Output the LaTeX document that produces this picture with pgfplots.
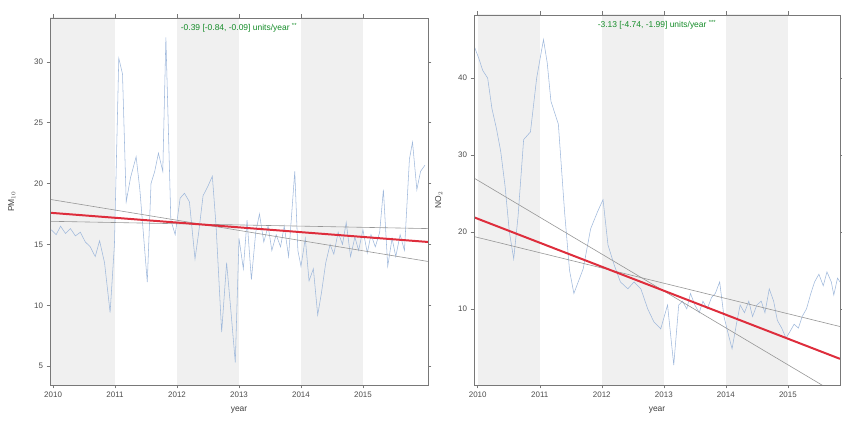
\documentclass[border=0pt]{standalone}
\usepackage{fontspec}
\setmainfont{Liberation Sans}
\usepackage{pgfplots}
\pgfplotsset{compat=1.18}
\definecolor{band}{RGB}{240,240,240}
\definecolor{dataline}{RGB}{160,185,220}
\definecolor{trend}{RGB}{222,45,60}
\definecolor{ci}{RGB}{150,150,150}
\definecolor{annot}{RGB}{20,140,40}
\definecolor{axgray}{RGB}{120,120,120}
\pgfplotsset{
 panel/.style={
  scale only axis,
  axis on top,
  axis line style={axgray, line width=0.6pt},
  tick style={axgray, line width=0.5pt},
  tick align=outside,
  major tick length=3.5bp,
  xtick={2010,2011,2012,2013,2014,2015},
  x tick label style={/pgf/number format/.cd, 1000 sep={}},
  /pgf/number format/assume math mode=true,
  ticklabel style={font=\fontsize{8}{9}\selectfont, text=black!70},
  xlabel={year},
  label style={font=\fontsize{8.5}{10}\selectfont, text=black!75},
  xlabel style={yshift=-2bp},
 }
}
\begin{document}
\begin{tikzpicture}
\useasboundingbox (0,0) rectangle (842bp,425bp);
% ---------------- left panel ----------------
\begin{axis}[panel,
  at={(50bp,40bp)}, anchor=south west,
  width=378bp, height=367bp,
  xmin=2009.95, xmax=2016.05, ymin=3.45, ymax=33.6,
  ytick={5,10,15,20,25,30},
  ylabel={PM$_{10}$}, ylabel style={yshift=12bp},
]
\addplot[fill=band, draw=none] coordinates {(2009.95,0) (2011,0) (2011,40) (2009.95,40)} -- cycle;
\addplot[fill=band, draw=none] coordinates {(2012,0) (2013,0) (2013,40) (2012,40)} -- cycle;
\addplot[fill=band, draw=none] coordinates {(2014,0) (2015,0) (2015,40) (2014,40)} -- cycle;
\addplot[dataline, line width=0.55pt] coordinates {
(2009.97,16.2) (2010.05,15.8) (2010.12,16.5) (2010.2,15.9) (2010.28,16.3) (2010.36,15.7)
(2010.44,16.0) (2010.52,15.2) (2010.6,14.8) (2010.68,14.0) (2010.75,15.3) (2010.83,13.5)
(2010.92,9.4) (2010.99,15.0) (2011.06,30.3) (2011.12,29.0) (2011.18,18.5) (2011.25,20.5)
(2011.34,22.2) (2011.4,19.5) (2011.52,11.9) (2011.58,20.0) (2011.64,21.0) (2011.7,22.5)
(2011.77,21.0) (2011.82,32.0) (2011.9,17.0) (2011.97,15.8) (2012.05,18.8) (2012.12,19.2)
(2012.2,18.5) (2012.29,13.8) (2012.35,16.0) (2012.42,19.0) (2012.5,19.8) (2012.57,20.6)
(2012.63,16.5) (2012.72,7.8) (2012.8,13.5) (2012.87,9.5) (2012.94,5.3) (2013.0,15.5)
(2013.07,13.0) (2013.13,17.0) (2013.2,12.1) (2013.27,16.0) (2013.33,17.5) (2013.4,15.2)
(2013.47,16.5) (2013.53,14.5) (2013.6,15.8) (2013.67,14.8) (2013.73,16.5) (2013.8,14.0)
(2013.9,21.0) (2013.95,14.5) (2014.0,13.2) (2014.07,15.5) (2014.13,12.0) (2014.2,13.0)
(2014.27,9.2) (2014.33,11.0) (2014.4,13.5) (2014.47,15.0) (2014.53,14.2) (2014.6,16.0)
(2014.67,15.0) (2014.73,16.8) (2014.8,14.0) (2014.87,15.6) (2014.93,14.5) (2015.0,16.2)
(2015.07,14.3) (2015.13,15.8) (2015.2,14.8) (2015.27,16.0) (2015.33,19.5) (2015.4,13.2)
(2015.47,15.5) (2015.53,14.0) (2015.6,15.8) (2015.67,14.5) (2015.75,22.0) (2015.8,23.4)
(2015.87,19.5) (2015.93,21.0) (2016.0,21.5)
};
\addplot[ci, line width=0.6pt] coordinates {(2009.95,18.7) (2016.05,13.6)};
\addplot[ci, line width=0.6pt] coordinates {(2009.95,16.9) (2016.05,16.3)};
\addplot[trend, line width=2pt] coordinates {(2009.95,17.6) (2016.05,15.2)};
\node[text=annot, font=\fontsize{8.5}{10}\selectfont, anchor=north, inner sep=1.5bp] at (rel axis cs:0.5,0.99) {-0.39 [-0.84, -0.09] units/year \textsuperscript{**}};
\end{axis}
% ---------------- right panel ----------------
\begin{axis}[panel,
  at={(474bp,40bp)}, anchor=south west,
  width=366bp, height=370bp,
  xmin=2009.94, xmax=2015.84, ymin=0.1, ymax=48.2,
  ytick={10,20,30,40},
  ylabel={NO$_2$}, ylabel style={yshift=9bp},
]
\addplot[fill=band, draw=none] coordinates {(2010,-5) (2011,-5) (2011,60) (2010,60)} -- cycle;
\addplot[fill=band, draw=none] coordinates {(2012,-5) (2013,-5) (2013,60) (2012,60)} -- cycle;
\addplot[fill=band, draw=none] coordinates {(2014,-5) (2015,-5) (2015,60) (2014,60)} -- cycle;
\addplot[dataline, line width=0.55pt] coordinates {
(2009.95,44.0) (2010.02,42.5) (2010.08,41.0) (2010.16,40.0) (2010.23,36.0) (2010.3,33.5)
(2010.37,30.5) (2010.44,26.0) (2010.51,20.0) (2010.58,16.5) (2010.65,22.0) (2010.74,32.0)
(2010.85,33.0) (2010.95,40.0) (2011.06,45.0) (2011.12,42.0) (2011.18,37.0) (2011.3,34.0)
(2011.4,22.6) (2011.48,15.0) (2011.55,12.0) (2011.62,13.5) (2011.7,15.2) (2011.82,20.4)
(2011.93,22.6) (2012.02,24.2) (2012.1,18.3) (2012.2,15.7) (2012.3,13.5) (2012.42,12.6)
(2012.52,13.5) (2012.63,12.6) (2012.74,10.0) (2012.84,8.3) (2012.95,7.4) (2013.06,10.5)
(2013.16,2.7) (2013.24,10.5) (2013.3,11.0) (2013.37,10.0) (2013.43,12.0) (2013.5,10.5)
(2013.57,9.5) (2013.63,11.0) (2013.7,10.0) (2013.77,11.5) (2013.83,12.0) (2013.9,13.5)
(2013.97,9.0) (2014.03,7.0) (2014.1,4.8) (2014.17,8.0) (2014.23,10.5) (2014.3,9.5)
(2014.37,11.0) (2014.43,9.0) (2014.5,10.5) (2014.57,11.0) (2014.63,9.5) (2014.7,12.6)
(2014.77,11.0) (2014.83,8.5) (2014.9,7.5) (2014.97,6.2) (2015.03,7.0) (2015.1,8.0)
(2015.17,7.5) (2015.23,9.0) (2015.3,10.0) (2015.37,12.0) (2015.43,13.5) (2015.5,14.5)
(2015.57,13.0) (2015.63,14.8) (2015.7,13.5) (2015.74,11.8) (2015.8,14.0) (2015.84,13.5)
};
\addplot[ci, line width=0.6pt] coordinates {(2009.94,27.0) (2015.84,-1.3)};
\addplot[ci, line width=0.6pt] coordinates {(2009.94,19.4) (2015.84,7.7)};
\addplot[trend, line width=2pt] coordinates {(2009.94,21.9) (2015.84,3.5)};
\node[text=annot, font=\fontsize{8.5}{10}\selectfont, anchor=north, inner sep=1.5bp] at (rel axis cs:0.5,0.99) {-3.13 [-4.74, -1.99] units/year \textsuperscript{***}};
\end{axis}
\end{tikzpicture}
\end{document}
